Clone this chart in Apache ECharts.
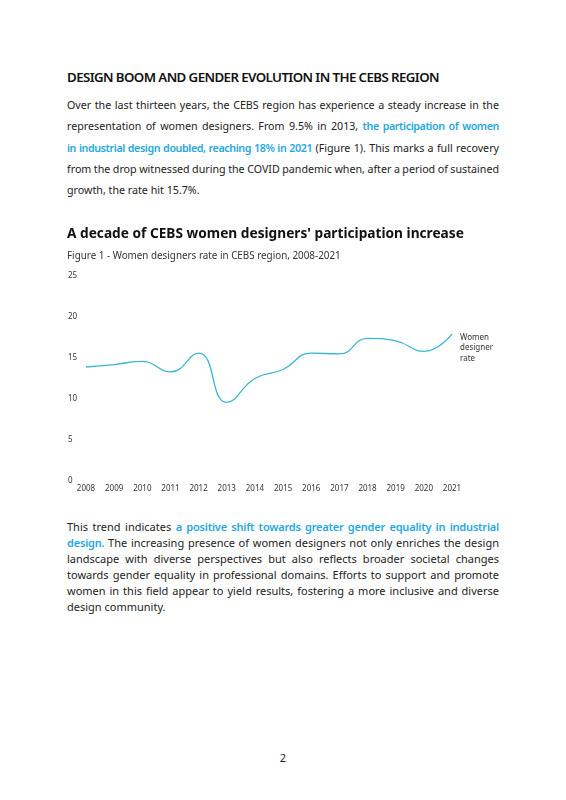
<!DOCTYPE html>
<html>
<head>
<meta charset="utf-8">
<script src="https://cdn.jsdelivr.net/npm/echarts@6/dist/echarts.min.js"></script>
<style>
  html, body { margin: 0; padding: 0; background: #fff; }
  body { width: 566px; height: 800px; position: relative; overflow: hidden;
         font-family: "Noto Sans", "Open Sans", sans-serif; color: #222; }
  .abs { position: absolute; left: 67px; width: 432px; }
  .heading { top: 67px; font-size: 13.3px; line-height: 20px; font-weight: 600;
             letter-spacing: -0.6px; color: #111; }
  .p1 { top: 95px; font-size: 10.7px; line-height: 21.3px; word-spacing: -2px; }
  .p2 { top: 519px; font-size: 11px; line-height: 16px; word-spacing: -1px; }
  .ln { height: 1lh; white-space: normal; text-align: justify; text-align-last: justify; }
  .ln.last { text-align-last: left; word-spacing: 0; }
  .hl { color: #1fa8e0; font-weight: 600; }
  .p1 .hl { letter-spacing: -0.4px; }
  .p2 .hl { letter-spacing: -0.2px; }
  #chart { position: absolute; left: 0; top: 215px; width: 566px; height: 290px; }
  .page { position: absolute; top: 750px; left: 0; width: 566px; text-align: center;
          font-size: 11px; line-height: 16px; }
</style>
</head>
<body>
<div class="abs heading">DESIGN BOOM AND GENDER EVOLUTION IN THE CEBS REGION</div>
<div class="abs p1">
  <div class="ln">Over the last thirteen years, the CEBS region has experience a steady increase in the</div>
  <div class="ln">representation of women designers. From 9.5% in 2013, <span class="hl">the participation of women</span></div>
  <div class="ln"><span class="hl">in industrial design doubled, reaching 18% in 2021</span> (Figure 1). This marks a full recovery</div>
  <div class="ln">from the drop witnessed during the COVID pandemic when, after a period of sustained</div>
  <div class="ln last">growth, the rate hit 15.7%.</div>
</div>
<div id="chart"></div>
<div class="abs p2">
  <div class="ln">This trend indicates <span class="hl">a positive shift towards greater gender equality in industrial</span></div>
  <div class="ln"><span class="hl">design.</span> The increasing presence of women designers not only enriches the design</div>
  <div class="ln">landscape with diverse perspectives but also reflects broader societal changes</div>
  <div class="ln">towards gender equality in professional domains. Efforts to support and promote</div>
  <div class="ln">women in this field appear to yield results, fostering a more inclusive and diverse</div>
  <div class="ln last">design community.</div>
</div>
<div class="page">2</div>
<script>
const years = ["2008", "2009", "2010", "2011", "2012", "2013", "2014",
               "2015", "2016", "2017", "2018", "2019", "2020", "2021"];
const womenRate = [13.9, 14.2, 14.6, 13.3, 15.6, 9.6, 12.5,
                   13.6, 15.6, 15.5, 17.4, 17.1, 15.8, 17.9];
const yTicks = { min: 0, max: 25, interval: 5 };

const chart = echarts.init(document.getElementById("chart"));
chart.setOption({
  animation: false,
  title: {
    text: "A decade of CEBS women designers' participation increase",
    subtext: "Figure 1 - Women designers rate in CEBS region, 2008-2021",
    left: 67,
    top: 9,
    padding: 0,
    itemGap: 5,
    textStyle: { fontFamily: "Noto Sans", fontSize: 13.7, fontWeight: "bold",
                 color: "#111", lineHeight: 20 },
    subtextStyle: { fontFamily: "Noto Sans", fontSize: 9.85, color: "#333", lineHeight: 14 }
  },
  grid: { left: 86, right: 114, top: 61, bottom: 24 },
  xAxis: {
    type: "category",
    data: years,
    boundaryGap: false,
    axisLine: { show: false },
    axisTick: { show: false },
    axisLabel: { fontFamily: "Noto Sans", fontSize: 8, color: "#333", margin: 4 }
  },
  yAxis: {
    type: "value",
    min: yTicks.min,
    max: yTicks.max,
    interval: yTicks.interval,
    splitLine: { show: false },
    axisLine: { show: false },
    axisTick: { show: false },
    axisLabel: { fontFamily: "Noto Sans", fontSize: 8, color: "#333",
                 align: "left", margin: 18 }
  },
  series: [{
    name: "Women designer rate",
    type: "line",
    data: womenRate,
    smooth: 0.5,
    showSymbol: false,
    lineStyle: { color: "#3bb7d3", width: 1.3 },
    endLabel: {
      show: true,
      formatter: "Women\ndesigner\nrate",
      fontFamily: "Noto Sans",
      fontSize: 8,
      lineHeight: 10.5,
      color: "#333",
      align: "left",
      verticalAlign: "top",
      offset: [0, -2]
    }
  }]
});
</script>
</body>
</html>
